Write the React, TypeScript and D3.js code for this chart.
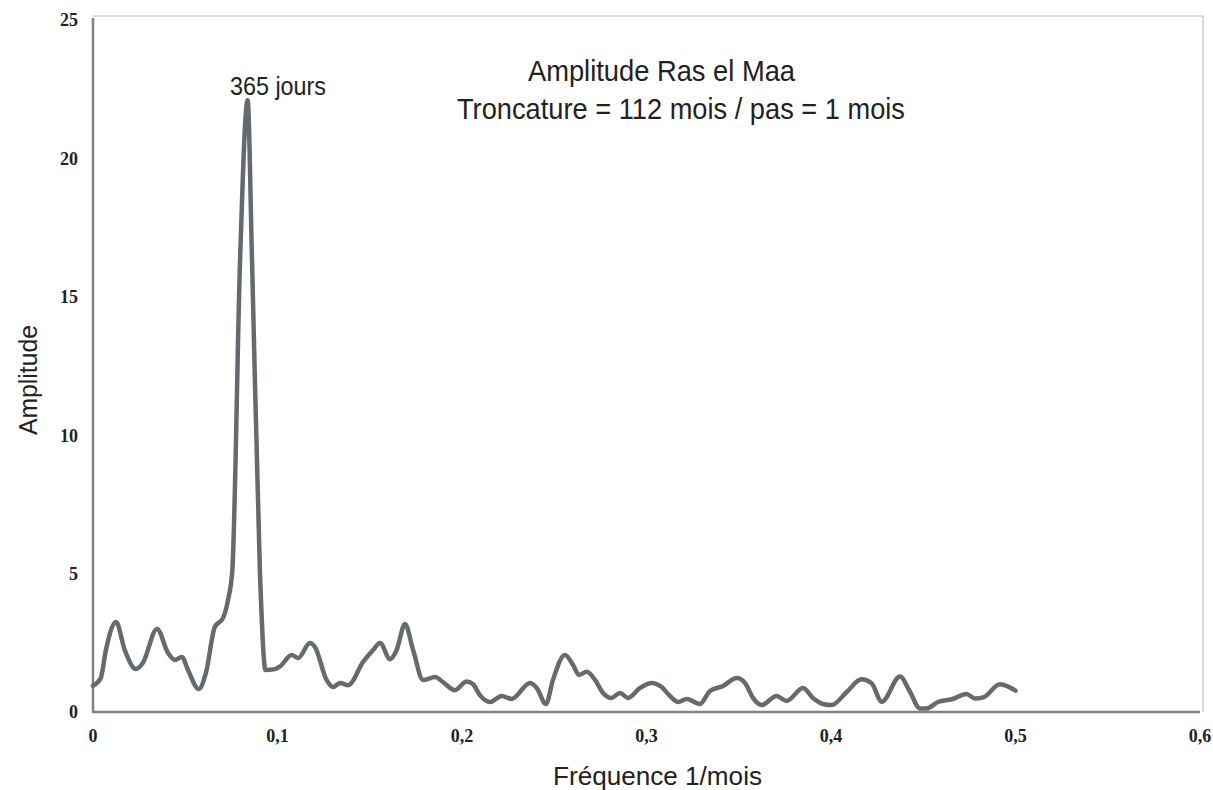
import React from 'react';
import * as d3 from 'd3';

// Fréquence (1/mois) et amplitude
const frequencies = [
  0.0, 0.0042, 0.007, 0.0125, 0.0172, 0.0233, 0.027, 0.0347, 0.0407, 0.0444,
  0.0482, 0.0515, 0.0573, 0.0612, 0.066, 0.0705, 0.0732, 0.0755, 0.0797, 0.0838,
  0.0862, 0.0905, 0.0935, 0.0985, 0.1014, 0.1077, 0.1112, 0.1176, 0.1203, 0.1266,
  0.1301, 0.1339, 0.1383, 0.1464, 0.1518, 0.1556, 0.161, 0.1646, 0.1691, 0.1735,
  0.1789, 0.1854, 0.1897, 0.1962, 0.2025, 0.206, 0.2098, 0.2152, 0.2215, 0.2269,
  0.2369, 0.2405, 0.2455, 0.2493, 0.2558, 0.2602, 0.2634, 0.2676, 0.2721, 0.2764,
  0.2811, 0.2856, 0.29, 0.2965, 0.3028, 0.3082, 0.3127, 0.3171, 0.3218, 0.329,
  0.3344, 0.3415, 0.3489, 0.3534, 0.3577, 0.3624, 0.3705, 0.376, 0.3848, 0.3902,
  0.3957, 0.4003, 0.4085, 0.4165, 0.422, 0.4275, 0.4374, 0.4428, 0.4482, 0.4519,
  0.4582, 0.4654, 0.4735, 0.478, 0.4825, 0.4916, 0.5,
];

const amplitudes = [
  0.95, 1.23, 2.24, 3.25, 2.24, 1.55, 1.77, 3.0, 2.13, 1.88,
  1.99, 1.52, 0.83, 1.41, 3.07, 3.4, 4.05, 5.1, 16.3, 22.1,
  16.3, 5.0, 1.52, 1.55, 1.65, 2.06, 1.95, 2.49, 2.35, 1.16,
  0.9, 1.05, 0.97, 1.81, 2.24, 2.49, 1.91, 2.24, 3.18, 2.24,
  1.16, 1.26, 1.08, 0.79, 1.1, 1.0, 0.6, 0.36, 0.58, 0.47,
  1.05, 0.87, 0.29, 1.16, 2.06, 1.7, 1.34, 1.45, 1.16, 0.69,
  0.51, 0.69, 0.51, 0.87, 1.05, 0.9, 0.58, 0.36, 0.47, 0.29,
  0.76, 0.94, 1.23, 1.05, 0.51, 0.25, 0.58, 0.4, 0.87, 0.51,
  0.29, 0.25, 0.72, 1.18, 1.04, 0.37, 1.28, 0.73, 0.13, 0.13,
  0.37, 0.46, 0.65, 0.49, 0.53, 1.0, 0.77,
];

const xTicks = [0, 0.1, 0.2, 0.3, 0.4, 0.5, 0.6];
const yTicks = [0, 5, 10, 15, 20, 25];

const W = 1213;
const H = 790;
const left = 93;
const right = 1200;
const top = 20;
const bottom = 712;

const sansFont = "'Liberation Sans', Arial, Helvetica, sans-serif";
const serifFont = "'Liberation Serif', 'Times New Roman', serif";

export default function App() {
  const x = d3.scaleLinear().domain([0, 0.6]).range([left, right]);
  const y = d3.scaleLinear().domain([0, 25]).range([bottom, top]);

  const points: [number, number][] = frequencies.map((f, i) => [f, amplitudes[i]]);
  const line = d3
    .line<[number, number]>()
    .x(d => x(d[0]))
    .y(d => y(d[1]))
    .curve(d3.curveMonotoneX);

  const fmt = (v: number) => String(v).replace('.', ',');

  return (
    <svg
      width={W}
      height={H}
      style={{ position: 'absolute', left: 0, top: 0, background: '#fff' }}
    >
      {/* cadre */}
      <line x1={left} x2={1203} y1={16} y2={16} stroke="#cfcfcf" strokeWidth={1.5} />
      <line x1={1203} x2={1203} y1={16} y2={bottom} stroke="#cfcfcf" strokeWidth={1.5} />

      {/* axes */}
      <line x1={left} x2={left} y1={18} y2={bottom + 1} stroke="#7d8387" strokeWidth={2.5} />
      <line x1={left} x2={right} y1={bottom} y2={bottom} stroke="#7d8387" strokeWidth={2.5} />

      {yTicks.map(t => (
        <text
          key={`y${t}`}
          x={78}
          y={y(t)}
          dy="0.35em"
          textAnchor="end"
          fontFamily={serifFont}
          fontWeight="bold"
          fontSize={18}
          fill="#222"
        >
          {t}
        </text>
      ))}

      {xTicks.map(t => (
        <text
          key={`x${t}`}
          x={x(t)}
          y={742}
          textAnchor="middle"
          fontFamily={serifFont}
          fontWeight="bold"
          fontSize={18}
          fill="#222"
        >
          {fmt(t)}
        </text>
      ))}

      <path
        d={line(points) || ''}
        fill="none"
        stroke="#646a6d"
        strokeWidth={4.5}
        strokeLinejoin="round"
        strokeLinecap="round"
      />

      <text
        x={230}
        y={95}
        fontFamily={sansFont}
        fontSize={25.5}
        fill="#222"
        textLength={96}
        lengthAdjust="spacingAndGlyphs"
      >
        365 jours
      </text>

      <text
        x={528}
        y={81}
        fontFamily={sansFont}
        fontSize={30}
        fill="#222"
        textLength={267}
        lengthAdjust="spacingAndGlyphs"
      >
        Amplitude Ras el Maa
      </text>
      <text
        x={457}
        y={119}
        fontFamily={sansFont}
        fontSize={30}
        fill="#222"
        textLength={448}
        lengthAdjust="spacingAndGlyphs"
      >
        Troncature = 112 mois / pas = 1 mois
      </text>

      <text
        transform="translate(37,435) rotate(-90)"
        fontFamily={sansFont}
        fontSize={26}
        fill="#222"
        textLength={110}
        lengthAdjust="spacingAndGlyphs"
      >
        Amplitude
      </text>
      <text
        x={553}
        y={785}
        fontFamily={sansFont}
        fontSize={26.5}
        fill="#222"
        textLength={209}
        lengthAdjust="spacingAndGlyphs"
      >
        Fréquence 1/mois
      </text>
    </svg>
  );
}
